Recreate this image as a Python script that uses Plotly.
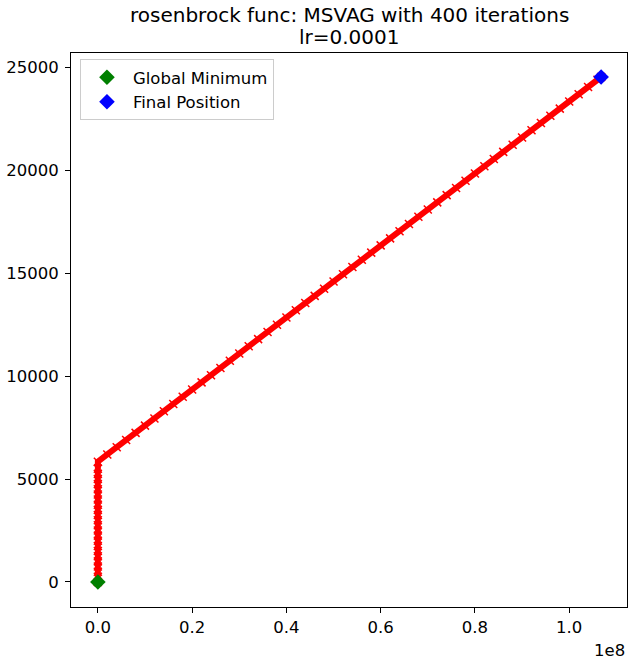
import plotly.graph_objects as go

# Optimizer path (x in raw units, y in raw units)
path_x = [0, 0, 0, 0, 0, 0, 0, 0, 0, 0, 0, 0, 0, 0, 0, 0, 0, 0, 0, 0, 0, 0, 0, 0,
          2.0e6, 4.0e6, 6.0e6, 8.0e6, 10.0e6, 12.0e6, 14.0e6, 16.0e6, 18.0e6, 20.0e6,
          22.0e6, 24.0e6, 26.0e6, 28.0e6, 30.0e6, 32.0e6, 34.0e6, 36.0e6, 38.0e6, 40.0e6,
          42.0e6, 44.0e6, 46.0e6, 48.0e6, 50.0e6, 52.0e6, 54.0e6, 56.0e6, 58.0e6, 60.0e6,
          62.0e6, 64.0e6, 66.0e6, 68.0e6, 70.0e6, 72.0e6, 74.0e6, 76.0e6, 78.0e6, 80.0e6,
          82.0e6, 84.0e6, 86.0e6, 88.0e6, 90.0e6, 92.0e6, 94.0e6, 96.0e6, 98.0e6, 100.0e6,
          102.0e6, 104.0e6, 106.0e6, 106.77e6]
path_y = [0, 250, 500, 750, 1000, 1250, 1500, 1750, 2000, 2250, 2500, 2750, 3000,
          3250, 3500, 3750, 4000, 4250, 4500, 4750, 5000, 5250, 5500, 5840,
          6190, 6540, 6890, 7240, 7590, 7940, 8290, 8640, 8990, 9340,
          9690, 10040, 10390, 10740, 11090, 11440, 11790, 12140, 12490, 12840,
          13190, 13540, 13890, 14240, 14590, 14940, 15290, 15640, 15990, 16340,
          16680, 17030, 17380, 17730, 18080, 18430, 18780, 19130, 19480, 19830,
          20180, 20530, 20880, 21230, 21580, 21930, 22280, 22630, 22980, 23330,
          23680, 24030, 24380, 24515]

global_min_x = [1]
global_min_y = [1]
final_x = [106.77e6]
final_y = [24515]

x_tickvals = [0, 0.2e8, 0.4e8, 0.6e8, 0.8e8, 1.0e8]
x_ticktext = ["0.0", "0.2", "0.4", "0.6", "0.8", "1.0"]
y_tickvals = [0, 5000, 10000, 15000, 20000, 25000]
y_ticktext = ["0", "5000", "10000", "15000", "20000", "25000"]

FONT = "DejaVu Sans"
L, R, T, B = 70, 6, 53, 59
W, H = 634, 666
pw = W - L - R
ph = H - T - B


def px_x(p):
    return (p - L) / pw


def px_y(p):
    return 1 + (T - p) / ph


fig = go.Figure()
fig.add_trace(go.Scatter(
    x=path_x, y=path_y, mode="lines+markers", showlegend=False,
    line=dict(color="red", width=6),
    marker=dict(symbol="x-thin", size=8, color="red", line=dict(color="red", width=1.5)),
))
fig.add_trace(go.Scatter(
    x=global_min_x, y=global_min_y, mode="markers", name="Global Minimum",
    marker=dict(symbol="diamond", size=12, color="green"),
))
fig.add_trace(go.Scatter(
    x=final_x, y=final_y, mode="markers", name="Final Position",
    marker=dict(symbol="diamond", size=12, color="blue"),
))

fig.update_layout(
    width=W, height=H,
    margin=dict(l=L, r=R, t=T, b=B),
    paper_bgcolor="white", plot_bgcolor="white",
    font=dict(family=FONT, size=16.5, color="black"),
    showlegend=True,
    legend=dict(
        x=px_x(79), y=px_y(59), xanchor="left", yanchor="top",
        bgcolor="rgba(255,255,255,0.8)", bordercolor="#cccccc", borderwidth=1,
        itemwidth=42,
        font=dict(family=FONT, size=16.5, color="black"),
    ),
    xaxis=dict(
        range=[-5.7e6, 1.1226e8], tickvals=x_tickvals, ticktext=x_ticktext,
        showgrid=False, zeroline=False, showline=True, mirror=True,
        linecolor="black", linewidth=1, ticks="outside", ticklen=5, tickcolor="black",
        tickfont=dict(size=16.5),
    ),
    yaxis=dict(
        range=[-1214, 25680], tickvals=y_tickvals, ticktext=y_ticktext,
        showgrid=False, zeroline=False, showline=True, mirror=True,
        linecolor="black", linewidth=1, ticks="outside", ticklen=5, tickcolor="black",
        ticklabelstandoff=3,
        tickfont=dict(size=16.5),
    ),
    annotations=[
        dict(text="rosenbrock func: MSVAG with 400 iterations", x=px_x(349), y=px_y(15),
             xref="paper", yref="paper", xanchor="center", yanchor="middle",
             showarrow=False, font=dict(size=20)),
        dict(text="lr=0.0001", x=px_x(349), y=px_y(37), xref="paper", yref="paper",
             xanchor="center", yanchor="middle", showarrow=False, font=dict(size=20)),
        dict(text="1e8", x=px_x(628), y=px_y(650), xref="paper", yref="paper",
             xanchor="right", yanchor="middle", showarrow=False, font=dict(size=16.5)),
    ],
)

fig.write_html("out.html")
